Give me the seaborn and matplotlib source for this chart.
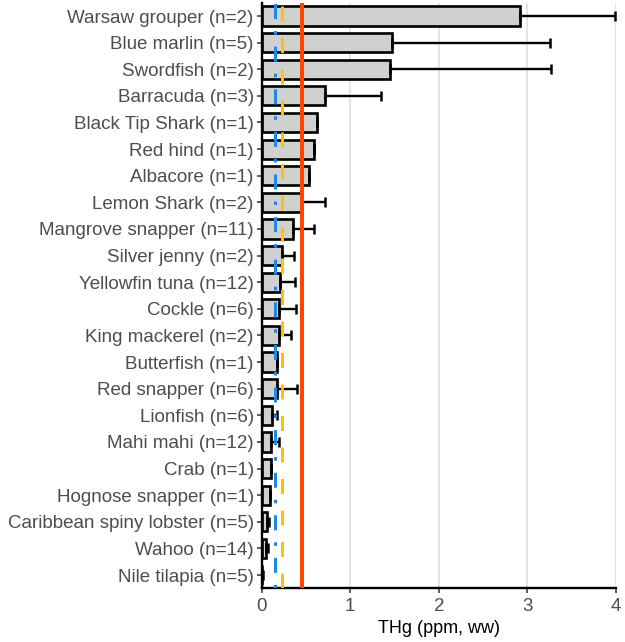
import numpy as np
import pandas as pd
import matplotlib
matplotlib.use("Agg")
import matplotlib.pyplot as plt
import seaborn as sns

# Mean total mercury (ppm, wet weight) by species, with upper SD
species = [
    "Warsaw grouper (n=2)", "Blue marlin (n=5)", "Swordfish (n=2)",
    "Barracuda (n=3)", "Black Tip Shark (n=1)", "Red hind (n=1)",
    "Albacore (n=1)", "Lemon Shark (n=2)", "Mangrove snapper (n=11)",
    "Silver jenny (n=2)", "Yellowfin tuna (n=12)", "Cockle (n=6)",
    "King mackerel (n=2)", "Butterfish (n=1)", "Red snapper (n=6)",
    "Lionfish (n=6)", "Mahi mahi (n=12)", "Crab (n=1)",
    "Hognose snapper (n=1)", "Caribbean spiny lobster (n=5)",
    "Wahoo (n=14)", "Nile tilapia (n=5)",
]
mean_thg = [
    2.92, 1.47, 1.45, 0.72, 0.63, 0.59, 0.53, 0.44, 0.35, 0.23, 0.21,
    0.20, 0.19, 0.175, 0.172, 0.113, 0.106, 0.105, 0.09, 0.055, 0.05, 0.008,
]
sd_thg = [
    1.07, 1.78, 1.82, 0.63, 0.0, 0.0, 0.0, 0.27, 0.24, 0.14, 0.17,
    0.19, 0.14, 0.0, 0.23, 0.06, 0.085, 0.0, 0.0, 0.025, 0.025, 0.004,
]

# Advisory thresholds (ppm)
best_choice = 0.15
good_choice = 0.23
avoid_level = 0.46

x_ticks = [0, 1, 2, 3, 4]
x_label = "THg (ppm, ww)"

df = pd.DataFrame({"species": species, "thg": mean_thg, "sd": sd_thg})

sns.set_style("ticks")
plt.rcParams["font.family"] = ["Liberation Sans", "DejaVu Sans"]

text_grey = "#4D4D4D"

fig = plt.figure(figsize=(6.25, 6.42), dpi=100)
ax = fig.add_axes([0.4187, 0.0836, 0.5669, 0.9122])

ax.grid(axis="x", color="#DCDCDC", linewidth=1.1, zorder=0)
ax.set_axisbelow(True)

sns.barplot(
    data=df, x="thg", y="species", orient="h", ax=ax,
    color="#D0D0D0", saturation=1, edgecolor="black", linewidth=1.9,
    width=0.72, errorbar=None, zorder=2,
)

pos = np.arange(len(species))
ax.errorbar(
    df["thg"], pos, xerr=[np.zeros(len(pos)), df["sd"]], fmt="none",
    ecolor="black", elinewidth=1.7, capsize=3.4, capthick=1.8, zorder=3,
)

lw = 2.16
ax.axvline(best_choice, color="#1E88E5", linewidth=lw,
           linestyle=(0, (1.2, 4.0, 5.0, 4.0)), zorder=4)
ax.axvline(good_choice, color="#FFC107", linewidth=lw,
           linestyle=(0, (5.0, 5.5)), zorder=4)
ax.axvline(avoid_level, color="#FF4500", linewidth=2.9, zorder=5)

ax.set_xlim(0, 4)
ax.set_ylim(len(species) - 0.5, -0.5)
ax.set_xticks(x_ticks)
ax.set_xticklabels([str(t) for t in x_ticks])
ax.set_xlabel(x_label, fontsize=13, color="black", labelpad=3)
ax.set_ylabel("")

ax.tick_params(axis="both", labelsize=13.5, labelcolor=text_grey,
               length=3.3, width=1.1, color="#333333", pad=2.5)
ax.tick_params(axis="x", pad=4)

for side in ["top", "right"]:
    ax.spines[side].set_visible(False)
for side in ["left", "bottom"]:
    ax.spines[side].set_color("black")
    ax.spines[side].set_linewidth(1.7)

fig.savefig("out.png", dpi=100)
